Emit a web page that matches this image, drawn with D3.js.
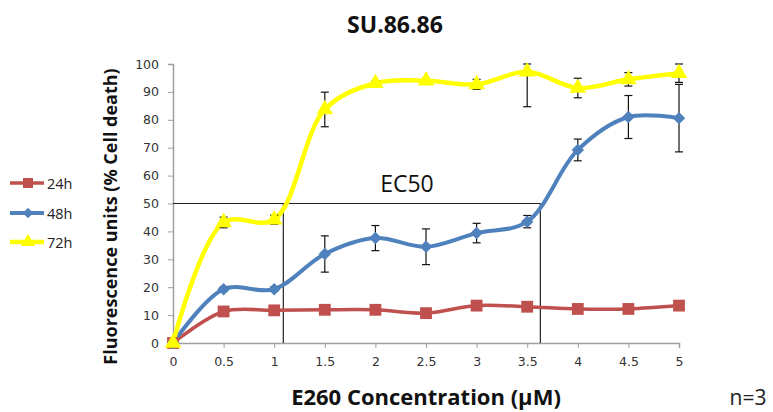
<!DOCTYPE html>
<html>
<head>
<meta charset="utf-8">
<script src="https://cdn.jsdelivr.net/npm/d3@7/dist/d3.min.js"></script>
<style>
  html, body { margin: 0; padding: 0; background: #fff; }
  svg { display: block; }
</style>
</head>
<body>
<svg id="chart" width="773" height="412"></svg>
<script>
// Concentrations of E260 (µM)
const concentrations = [0, 0.5, 1, 1.5, 2, 2.5, 3, 3.5, 4, 4.5, 5];
const xTicks = [0, 0.5, 1, 1.5, 2, 2.5, 3, 3.5, 4, 4.5, 5];
const yTicks = [0, 10, 20, 30, 40, 50, 60, 70, 80, 90, 100];

// % cell death per exposure time
const death24h = [0, 11.3, 11.7, 11.9, 11.9, 10.7, 13.4, 13.0, 12.2, 12.2, 13.4];
const death48h = [0, 19.3, 19.3, 31.9, 37.6, 34.5, 39.4, 43.5, 69.2, 81.0, 80.6];
const death72h = [0, 43.2, 44.2, 83.7, 93.1, 94.0, 92.7, 97.2, 91.4, 94.5, 96.7];

// error bar half-widths
const err24h = [0, 0.6, 0.6, 0.6, 0.6, 0.6, 0.6, 0.6, 0.6, 0.6, 0.6];
const err48h = [0, 0.8, 0.8, 6.5, 4.5, 6.4, 3.5, 2.2, 3.9, 7.7, 12.1];
const err72h = [0, 1.9, 1.6, 6.2, 0.9, 0.9, 1.8, 12.5, 3.5, 2.4, 3.3];

// EC50 guide: 50 % level and the concentrations where it is reached
const ec50Level = 50;
const ec50Conc = [1.09, 3.63];

const svg = d3.select("#chart");
const margin = { left: 173, right: 94, top: 64, bottom: 69 };
const W = 773, H = 412;

const x = d3.scaleLinear().domain([0, 5]).range([margin.left, W - margin.right]);
const y = d3.scaleLinear().domain([0, 100]).range([H - margin.bottom, margin.top]);

const font = "'Open Sans', 'DejaVu Sans', sans-serif";

// Title
svg.append("text")
  .attr("x", 395).attr("y", 33)
  .attr("text-anchor", "middle")
  .attr("font-family", font).attr("font-weight", "bold").attr("font-size", 23)
  .attr("fill", "#111")
  .text("SU.86.86");

// Axes
const yAxis = svg.append("g")
  .attr("transform", `translate(${x(0)},0)`)
  .call(d3.axisLeft(y).tickValues(yTicks).tickSize(5).tickPadding(9));
const xAxis = svg.append("g")
  .attr("transform", `translate(0,${y(0)})`)
  .call(d3.axisBottom(x).tickValues(xTicks).tickSize(5).tickPadding(9)
    .tickFormat(d => d3.format("")(d)));

[yAxis, xAxis].forEach(g => {
  g.selectAll(".domain").attr("stroke", "#a0a0a0").attr("stroke-width", 1.5);
  g.selectAll(".tick line").attr("stroke", "#a0a0a0");
  g.selectAll(".tick text")
    .attr("font-family", "'DejaVu Sans', sans-serif")
    .attr("font-size", 12.5).attr("fill", "#333");
});

// Axis titles
svg.append("text")
  .attr("transform", `translate(117,${(y(0) + y(100)) / 2 + 13}) rotate(-90)`)
  .attr("text-anchor", "middle")
  .attr("font-family", font).attr("font-weight", "bold").attr("font-size", 18)
  .attr("fill", "#111")
  .text("Fluorescence units (% Cell death)");

svg.append("text")
  .attr("x", 426).attr("y", 405)
  .attr("text-anchor", "middle")
  .attr("font-family", font).attr("font-weight", "bold").attr("font-size", 22)
  .attr("fill", "#111")
  .text("E260 Concentration (µM)");

svg.append("text")
  .attr("x", 748).attr("y", 405)
  .attr("text-anchor", "middle")
  .attr("font-family", font).attr("font-size", 21)
  .attr("fill", "#222")
  .text("n=3");

// EC50 guide lines
const guide = svg.append("g").attr("stroke", "#222").attr("stroke-width", 1.2).attr("fill", "none");
guide.append("line")
  .attr("x1", x(0)).attr("x2", x(ec50Conc[1]))
  .attr("y1", y(ec50Level)).attr("y2", y(ec50Level));
ec50Conc.forEach(c => {
  guide.append("line")
    .attr("x1", x(c)).attr("x2", x(c))
    .attr("y1", y(ec50Level)).attr("y2", y(0));
});
svg.append("text")
  .attr("x", 407).attr("y", 192)
  .attr("text-anchor", "middle")
  .attr("font-family", font).attr("font-size", 23)
  .attr("fill", "#111")
  .text("EC50");

// Series
const diamond = d3.symbol().type(d3.symbolSquare).size(78);
const series = [
  { name: "24h", values: death24h, err: err24h, color: "#C0504D", width: 3.5, symbol: d3.symbol().type(d3.symbolSquare).size(140), rot: 0 },
  { name: "48h", values: death48h, err: err48h, color: "#4F81BD", width: 4, symbol: diamond, rot: 45 },
  { name: "72h", values: death72h, err: err72h, color: "#FFFF00", width: 4.5, symbol: d3.symbol().type(d3.symbolTriangle).size(120), rot: 0 }
];

const line = d3.line()
  .x((d, i) => x(concentrations[i]))
  .y(d => y(d))
  .curve(d3.curveCatmullRom.alpha(0.5));

const lineLayer = svg.append("g");
const errLayer = svg.append("g").attr("stroke", "#111").attr("stroke-width", 1.2);
const markerLayer = svg.append("g");

series.forEach(s => {
  lineLayer.append("path")
    .attr("d", line(s.values))
    .attr("fill", "none")
    .attr("stroke", s.color)
    .attr("stroke-width", s.width)
    .attr("stroke-linejoin", "round");

  s.values.forEach((v, i) => {
    const e = s.err[i];
    if (!e) return;
    const cx = x(concentrations[i]);
    const top = y(Math.min(100, v + e)), bot = y(v - e);
    errLayer.append("line").attr("x1", cx).attr("x2", cx).attr("y1", top).attr("y2", bot);
    errLayer.append("line").attr("x1", cx - 4).attr("x2", cx + 4).attr("y1", top).attr("y2", top);
    errLayer.append("line").attr("x1", cx - 4).attr("x2", cx + 4).attr("y1", bot).attr("y2", bot);
  });

  markerLayer.selectAll(null)
    .data(s.values)
    .join("path")
    .attr("transform", (d, i) => `translate(${x(concentrations[i])},${y(d)}) rotate(${s.rot})`)
    .attr("d", s.symbol())
    .attr("fill", s.color);
});

// Legend
const legend = svg.append("g");
const legendY = [183, 213, 242];
series.forEach((s, i) => {
  const ly = legendY[i];
  legend.append("line")
    .attr("x1", 10).attr("x2", 44).attr("y1", ly).attr("y2", ly)
    .attr("stroke", s.color).attr("stroke-width", s.width);
  legend.append("path")
    .attr("transform", `translate(28,${ly}) rotate(${s.rot}) scale(0.85)`)
    .attr("d", s.symbol())
    .attr("fill", s.color);
  legend.append("text")
    .attr("x", 47).attr("y", ly + 5.5)
    .attr("font-family", font).attr("font-size", 14.5)
    .attr("fill", "#222")
    .text(s.name);
});
</script>
</body>
</html>
